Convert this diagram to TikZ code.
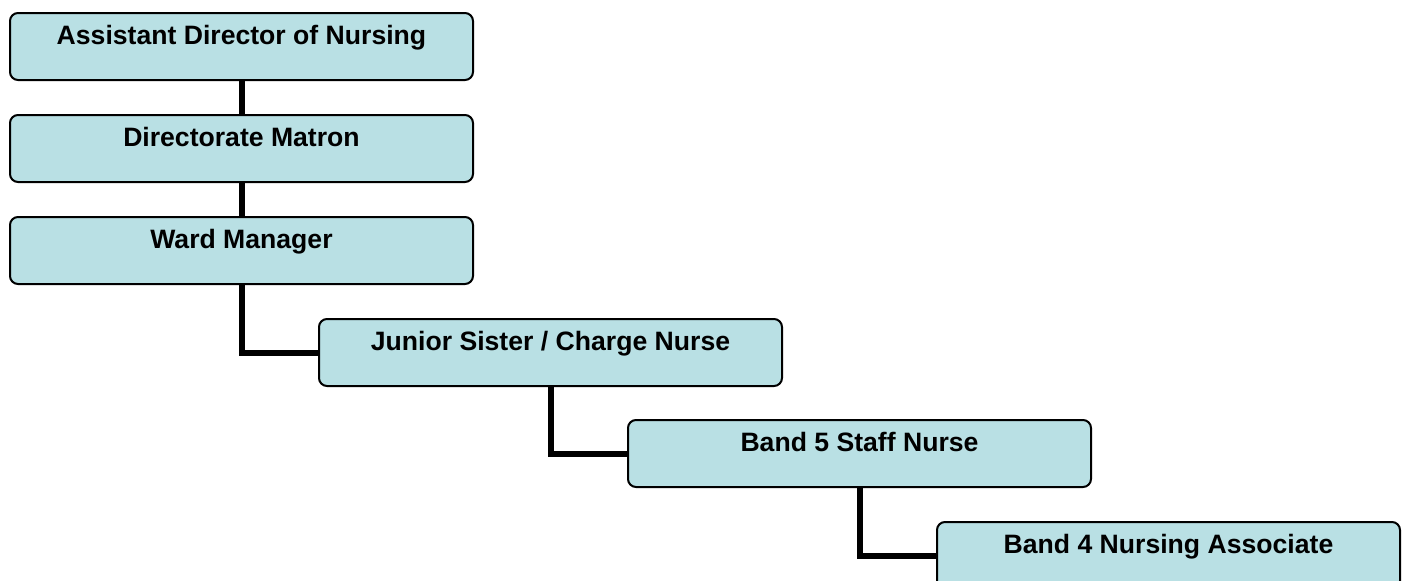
\documentclass[tikz,border=0pt]{standalone}
\usepackage{fontspec}
\setmainfont{Liberation Sans}
\usepackage{tikz}
\usetikzlibrary{calc}
\usetikzlibrary{positioning}
\definecolor{boxfill}{RGB}{185,224,228}

\begin{document}
\begin{tikzpicture}[x=1pt, y=-1pt,
		role/.style={rectangle, draw, line width=2pt, fill=boxfill, rounded corners=8pt,
			anchor=north west, minimum width=463pt, inner sep=0pt,
			text height=31pt, text depth=36pt,
			font=\fontsize{26.6}{32}\selectfont\bfseries},
		link/.style={line width=6pt}]
				\clip (0,0) rectangle (1406,581);
				\node[role] (0) at (9,12) {Assistant Director of Nursing};
				\node[role] (1) at (9,114) {Directorate Matron};
				\node[role] (2) at (9,216) {Ward Manager};
				\node[role] (3) at (318,318) {Junior Sister / Charge Nurse};
				\node[role] (4) at (627,419) {Band 5 Staff Nurse};
				\node[role] (5) at (936,521) {Band 4 Nursing Associate};
				
				\draw[link]  (0.south) -- (1.north);
				\draw[link]  (1.south) -- (2.north);
				\draw[link]  (2.south) |- (3.west);
				\draw[link]  (3.south) |- (4.west);
				\draw[link]  (4.south) |- (5.west);
			\end{tikzpicture}
\end{document}
